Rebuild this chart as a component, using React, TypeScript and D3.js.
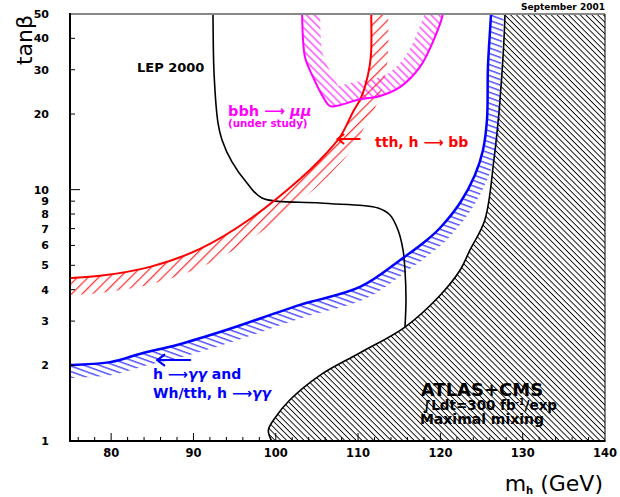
import React from "react";
import * as d3 from "d3";

// ---- axes ----
const mhDomain: [number, number] = [75, 140];
const tbDomain: [number, number] = [1, 50];
const xMajorTicks = [80, 90, 100, 110, 120, 130, 140];
const xMinorTicks = d3.range(76, 140, 2);
const yTickValues = [1, 2, 3, 4, 5, 6, 7, 8, 9, 10, 20, 30, 40, 50];

// ---- curves, [mh (GeV), tanβ] ----
const excludedBoundary: [number, number][] = [
  [127.85, 56], [127.85, 50], [127.24, 22.75], [126.5, 13.13], [125.4, 7.58], [123.6, 5.76],
  [122.4, 4.79], [120.0, 3.81], [115.7, 2.84], [110.2, 2.24], [105.4, 1.83],
  [101.7, 1.456], [99.9, 1.235], [99.1, 1.106], [99.5, 1.0], [99.8, 0.97],
];
const lepCurve: [number, number][] = [
  [92.35, 56], [92.37, 50], [92.5, 29.1], [92.98, 18.43], [93.47, 15.77], [94.68, 12.89],
  [96.5, 10.63], [98.33, 9.27], [105.37, 8.85], [112.42, 8.46], [113.88, 7.93],
  [114.85, 6.91], [115.46, 5.76], [115.7, 4.79], [115.82, 3.64], [115.7, 2.84],
];
const tthCurve: [number, number][] = [
  [74.5, 4.44], [75, 4.45], [78.64, 4.54], [84.72, 4.93], [90.79, 5.81], [96.87, 7.64],
  [102.94, 11.03], [105.37, 13.13], [107.8, 16.2], [109.38, 20.38], [110.35, 23.17],
  [111.2, 28.6], [111.57, 34.4], [111.6, 50], [111.6, 56],
];
const gammaCurve: [number, number][] = [
  [74.5, 2.0], [75, 2.006], [79.86, 2.06], [83.87, 2.24], [88.0, 2.41], [94.07, 2.77],
  [102.94, 3.48], [110.23, 4.1], [115.46, 5.35], [118.37, 6.31], [119.95, 7.04],
  [122.38, 8.85], [124.2, 11.44], [125.18, 14.39], [125.66, 18.94], [125.78, 30.8],
  [126.15, 50], [126.2, 56],
];
const mumuCurve: [number, number][] = [
  [103.15, 56], [103.19, 50], [103.55, 33.7], [104.52, 28.1], [105.74, 23.4], [106.59, 21.5],
  [107.8, 21.7], [109.87, 22.75], [112.66, 23.6], [115.09, 25.6], [117.52, 30.8],
  [119.34, 40.5], [120.3, 50], [120.4, 56],
];

// ---- annotation anchors (data units): [from mh, to mh, tanβ] ----
const tthArrow: [number, number, number] = [110.2, 107.5, 15.9];
const gammaArrow: [number, number, number] = [89.6, 85.6, 2.1];

const W = 620;
const H = 497;
const L = 70, R = 605, T = 14, B = 441;

const x = d3.scaleLinear().domain(mhDomain).range([L, R]);
const y = d3.scaleLog().domain(tbDomain).range([B, T]);

const curveGen = d3.line<[number, number]>().curve(d3.curveCatmullRom.alpha(0.5));
const toPx = (pts: [number, number][]) => pts.map((p) => [x(p[0]), y(p[1])] as [number, number]);

function bandPath(pts: [number, number][], w: number, sign: number) {
  const px = toPx(pts);
  const off = px.map((p, i) => {
    const a = px[Math.max(0, i - 1)];
    const b = px[Math.min(px.length - 1, i + 1)];
    const dx = b[0] - a[0];
    const dy = b[1] - a[1];
    const len = Math.hypot(dx, dy) || 1;
    return [p[0] + (sign * w * -dy) / len, p[1] + (sign * w * dx) / len] as [number, number];
  });
  const p1 = curveGen(px) as string;
  const p2 = curveGen(off.slice().reverse()) as string;
  return p1 + "L" + p2.slice(1) + "Z";
}

const FONT = "'DejaVu Sans', 'Liberation Sans', Arial, sans-serif";
const ARROW = "\u27F6";

export default function App() {
  const exclPx = toPx(excludedBoundary);
  const exclPath = (curveGen(exclPx) as string) + `L${R + 5},${B + 5}L${R + 5},${T - 5}Z`;

  const arrow = (a: [number, number, number], color: string, head: number, sw: number) => {
    const x1 = x(a[0]), x2 = x(a[1]), yy = y(a[2]);
    return (
      <g stroke={color} strokeWidth={sw} fill="none" strokeLinecap="round" strokeLinejoin="round">
        <path d={`M${x1},${yy}L${x2},${yy}`} />
        <path d={`M${x2 + head},${yy - head * 0.75}L${x2},${yy}L${x2 + head},${yy + head * 0.75}`} />
      </g>
    );
  };

  return (
    <svg width={W} height={H} style={{ position: "absolute", left: 0, top: 0, background: "#fff" }}
      fontFamily={FONT}>
      <defs>
        <clipPath id="plotClip">
          <rect x={L} y={T} width={R - L} height={B - T} />
        </clipPath>
        <pattern id="hatchBlack" patternUnits="userSpaceOnUse" width={4.1} height={4.1} patternTransform="rotate(-45)">
          <line x1={2} y1={-1} x2={2} y2={6} stroke="#000" strokeWidth={0.9} />
        </pattern>
        <pattern id="hatchRed" patternUnits="userSpaceOnUse" width={7.5} height={7.5} patternTransform="rotate(45)">
          <line x1={3.5} y1={-1} x2={3.5} y2={9} stroke="#ff0000" strokeWidth={1} />
        </pattern>
        <pattern id="hatchMag" patternUnits="userSpaceOnUse" width={5.5} height={5.5} patternTransform="rotate(-45)">
          <line x1={2.7} y1={-1} x2={2.7} y2={7} stroke="#ff00ff" strokeWidth={1} />
        </pattern>
        <pattern id="hatchBlue" patternUnits="userSpaceOnUse" width={5.2} height={5.2} patternTransform="rotate(20)">
          <line x1={-1} y1={2.5} x2={7} y2={2.5} stroke="#0000ff" strokeWidth={1} />
        </pattern>
      </defs>

      <g clipPath="url(#plotClip)">
        {/* excluded region */}
        <path d={exclPath} fill="url(#hatchBlack)" stroke="none" />
        <path d={curveGen(exclPx) as string} fill="none" stroke="#000" strokeWidth={1.6} />

        {/* hatched bands */}
        <path d={bandPath(tthCurve, 17, 1)} fill="url(#hatchRed)" />
        <path d={bandPath(gammaCurve, 13, 1)} fill="url(#hatchBlue)" />
        <path d={bandPath(mumuCurve, 18, -1)} fill="url(#hatchMag)" />

        {/* curves */}
        <path d={curveGen(toPx(lepCurve)) as string} fill="none" stroke="#000" strokeWidth={1.6} />
        <path d={curveGen(toPx(tthCurve)) as string} fill="none" stroke="#ff0000" strokeWidth={2} />
        <path d={curveGen(toPx(gammaCurve)) as string} fill="none" stroke="#0000ff" strokeWidth={2.5} />
        <path d={curveGen(toPx(mumuCurve)) as string} fill="none" stroke="#ff00ff" strokeWidth={2} />
      </g>

      {/* frame */}
      <line x1={L} y1={T} x2={R} y2={T} stroke="#888" strokeWidth={2} />
      <line x1={R} y1={T} x2={R} y2={B} stroke="#000" strokeWidth={1} />
      <line x1={L} y1={T - 1} x2={L} y2={B + 1} stroke="#000" strokeWidth={2} />
      <line x1={L - 1} y1={B} x2={R + 0.5} y2={B} stroke="#000" strokeWidth={2} />

      {/* x ticks */}
      {xMinorTicks.map((t) => (
        <line key={"xm" + t} x1={x(t)} x2={x(t)} y1={B} y2={B - (t % 10 === 0 ? 8 : 4)} stroke="#000" strokeWidth={1} />
      ))}
      {xMajorTicks.map((t) => (
        <text key={"xl" + t} x={x(t)} y={B + 16} textAnchor="middle" fontSize={11.5} fontWeight="bold">{t}</text>
      ))}

      {/* y ticks */}
      {yTickValues.map((t) => (
        <g key={"y" + t}>
          {t > 1 && t < 50 && (
            <line x1={L} x2={L + (t === 10 ? 10 : 5)} y1={y(t)} y2={y(t)} stroke="#000" strokeWidth={1} />
          )}
          <text x={49} y={y(t)} dy="0.36em" textAnchor="end" fontSize={11} fontWeight="bold">{t}</text>
        </g>
      ))}

      {/* axis titles */}
      <text transform={`translate(32,40) rotate(-90)`} textAnchor="middle" fontSize={22}>tanβ</text>
      <text x={603} y={491} textAnchor="end" fontSize={22}>
        m<tspan fontSize={10} fontWeight="bold" dy={3}>h</tspan><tspan dy={-3}> (GeV)</tspan>
      </text>

      <text x={605} y={10} textAnchor="end" fontSize={9} fontWeight="bold">September 2001</text>

      {/* annotations */}
      <text x={137} y={72} fontSize={13} fontWeight="bold">LEP 2000</text>

      <text x={228} y={116} fontSize={14.5} fontWeight="bold" fill="#ff00ff">
        bbh {ARROW} <tspan fontStyle="italic">μμ</tspan>
      </text>
      <text x={228} y={127} fontSize={10.3} fontWeight="bold" fill="#ff00ff">(under study)</text>

      {arrow(tthArrow, "#ff0000", 6, 2)}
      <text x={375} y={147} fontSize={14} fontWeight="bold" fill="#ff0000">tth, h {ARROW} bb</text>

      {arrow(gammaArrow, "#0000ff", 7, 2.2)}
      <text x={153} y={379} fontSize={14} fontWeight="bold" fill="#0000ff">
        h {ARROW}<tspan fontStyle="italic">γγ</tspan> and
      </text>
      <text x={153} y={398} fontSize={14} fontWeight="bold" fill="#0000ff">
        Wh/tth, h {ARROW}<tspan fontStyle="italic">γγ</tspan>
      </text>

      <text x={482} y={396} textAnchor="middle" fontSize={18} fontWeight="bold">ATLAS+CMS</text>
      <text x={490} y={410} textAnchor="middle" fontSize={13.5} fontWeight="bold">
        ∫Ldt=300 fb<tspan fontSize={8} dy={-5}>-1</tspan><tspan dy={5}>/exp</tspan>
      </text>
      <text x={482} y={424} textAnchor="middle" fontSize={14} fontWeight="bold">Maximal mixing</text>
    </svg>
  );
}
